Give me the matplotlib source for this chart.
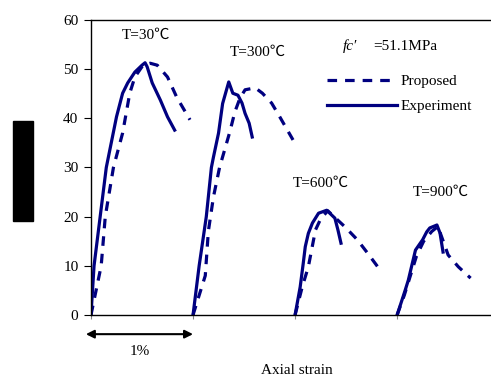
import matplotlib.pyplot as plt
from matplotlib.patches import Rectangle

plt.rcParams['font.family'] = ['Liberation Serif', 'Noto Sans CJK SC', 'DejaVu Sans']
plt.rcParams['font.size'] = 11

NAVY = '#000080'

# ── Data: stress [MPa] vs strain [%], each curve shifted by 1 % along x ──────
temps   = ['T=30℃', 'T=300℃', 'T=600℃', 'T=900℃']
offsets = [0, 1, 2, 3]

exp_x = [
    [0, 0.03, 0.09, 0.15, 0.25, 0.31, 0.36, 0.43, 0.50, 0.53, 0.55, 0.60, 0.68, 0.75, 0.82],
    [0, 0.06, 0.13, 0.18, 0.20, 0.25, 0.29, 0.35, 0.39, 0.44, 0.48, 0.51, 0.55, 0.58],
    [0, 0.05, 0.08, 0.10, 0.13, 0.17, 0.23, 0.31, 0.39, 0.42, 0.45],
    [0, 0.08, 0.11, 0.15, 0.18, 0.25, 0.29, 0.32, 0.39, 0.42, 0.45],
]
exp_y = [
    [0, 10, 20, 30, 40.3, 45.1, 47.2, 49.4, 50.8, 51.3, 50.5, 47.2, 43.7, 40.3, 37.6],
    [0, 10, 20, 30, 32.1, 37, 43, 47.4, 45.1, 44.7, 43.1, 41, 39, 36.2],
    [0, 5.7, 10.5, 13.9, 16.6, 18.7, 20.7, 21.3, 19.7, 17.3, 14.6],
    [0, 5.1, 7.1, 10.6, 13.2, 15.3, 16.9, 17.7, 18.3, 16.7, 12.8],
]
prop_x = [
    [0, 0.05, 0.10, 0.14, 0.22, 0.31, 0.38, 0.43, 0.51, 0.58, 0.65, 0.75, 0.84, 0.97],
    [0, 0.06, 0.12, 0.15, 0.20, 0.26, 0.31, 0.36, 0.41, 0.46, 0.51, 0.61, 0.68, 0.77, 0.85, 0.98],
    [0, 0.07, 0.13, 0.20, 0.25, 0.32, 0.49, 0.61, 0.71, 0.81],
    [0, 0.07, 0.13, 0.19, 0.26, 0.34, 0.40, 0.50, 0.60, 0.72],
]
prop_y = [
    [0, 5, 10, 20, 30, 37, 45.1, 48.4, 50.8, 51.2, 50.8, 48.4, 44.3, 39.7],
    [0, 4, 8, 17, 24, 30, 33.6, 37.2, 41.3, 44.1, 45.8, 46.2, 45.1, 43.1, 40.3, 35.6],
    [0, 5.7, 9.8, 17.3, 19.5, 21.2, 17.9, 15.3, 12.6, 9.8],
    [0, 4, 8, 12, 15, 17, 18, 12.2, 9.8, 7.5],
]
label_xy = [(0.54, 56.9), (1.63, 53.5), (2.25, 26.8), (3.43, 25.0)]

# ── Plot ─────────────────────────────────────────────────────────────────────
fig = plt.figure(figsize=(4.91, 3.77), dpi=100)
ax = fig.add_axes([0.1853, 0.1645, 0.8147, 0.7825])

for i in range(4):
    ex = [v + offsets[i] for v in exp_x[i]]
    px = [v + offsets[i] for v in prop_x[i]]
    ax.plot(px, prop_y[i], color=NAVY, lw=2.3, ls=(0, (3, 2.5)),
            label='Proposed' if i == 0 else None)
    ax.plot(ex, exp_y[i], color=NAVY, lw=2.3,
            label='Experiment' if i == 0 else None)
    ax.text(label_xy[i][0], label_xy[i][1], temps[i], ha='center', va='center')

ax.set_xlim(0, 3.92)
ax.set_ylim(0, 60)
ax.set_yticks(range(0, 61, 10))
ax.set_xticks(offsets)
ax.set_xticklabels([])
ax.tick_params(axis='y', direction='out', length=5, width=0.8, pad=4)
ax.tick_params(axis='x', direction='out', length=3, width=0.8, color='#888888')
ax.spines['right'].set_visible(False)
for s in ['left', 'bottom', 'top']:
    ax.spines[s].set_linewidth(1.0)

ax.legend(loc='upper left', bbox_to_anchor=(0.59, 0.815), frameon=False,
          handlelength=4.6, handletextpad=0.2, labelspacing=0.75,
          borderpad=0, borderaxespad=0)

ax.text(0.63, 0.91, "fc\u2032", transform=ax.transAxes, style='italic',
        ha='left', va='center')
ax.text(0.705, 0.91, "=51.1MPa", transform=ax.transAxes,
        ha='left', va='center')

# 1 % scale arrow under the first curve
ax.annotate('', xy=(1.0, -3.9), xytext=(-0.05, -3.9), annotation_clip=False,
            arrowprops=dict(arrowstyle='<|-|>', color='black', lw=1.5,
                            mutation_scale=12, shrinkA=0, shrinkB=0))
ax.text(0.48, -7.5, '1%', ha='center', va='center', clip_on=False)
ax.text(2.02, -11.2, 'Axial strain', ha='center', va='center', clip_on=False)

fig.add_artist(Rectangle((0.0265, 0.4138), 0.0407, 0.265,
                         transform=fig.transFigure, color='black'))

plt.savefig('out.png', dpi=100)
